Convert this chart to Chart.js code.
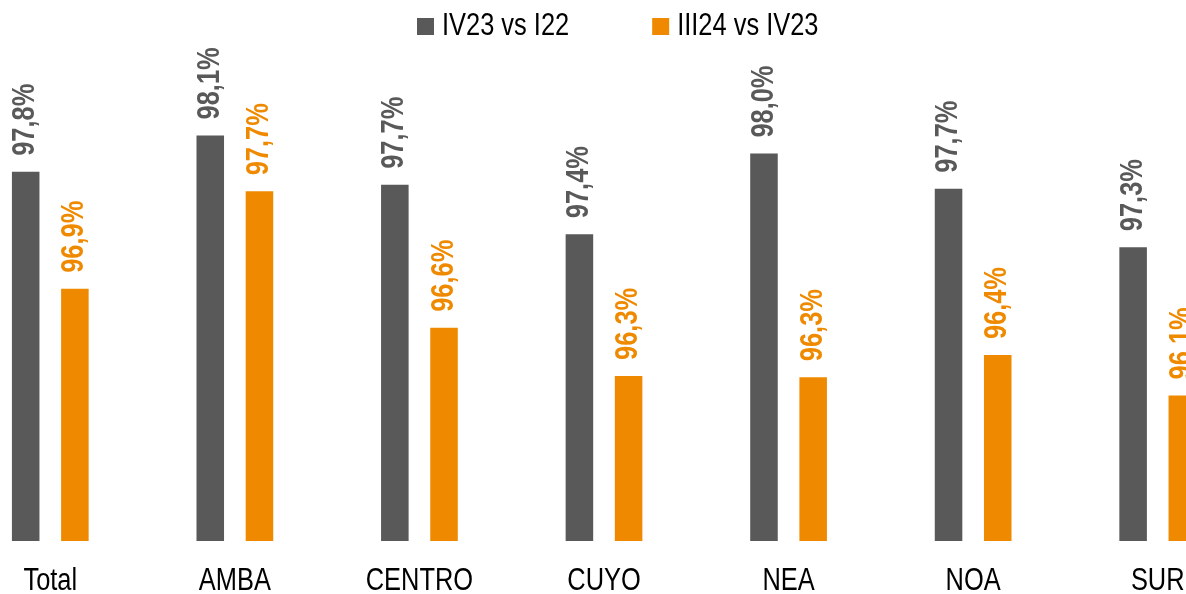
<!DOCTYPE html>
<html>
<head>
<meta charset="utf-8">
<script src="https://cdn.jsdelivr.net/npm/chart.js@4.4.1/dist/chart.umd.min.js"></script>
<style>
  html, body { margin: 0; padding: 0; background: #fff; overflow: hidden; }
  #wrap { position: relative; width: 1186px; height: 594px; overflow: hidden; }
  #out { position: absolute; left: -42px; top: 0; }
</style>
</head>
<body>
<div id="wrap"><canvas id="out" width="1292" height="594"></canvas></div>
<script>
const regions = ["Total", "AMBA", "CENTRO", "CUYO", "NEA", "NOA", "SUR"];
const seriesNames = ["IV23 vs I22", "III24 vs IV23"];
const iv23Data = [97.84, 98.12, 97.74, 97.36, 97.98, 97.71, 97.26];
const iii24Data = [96.94, 97.69, 96.64, 96.27, 96.26, 96.43, 96.12];
const yMin = 95;
const yMax = 98.8;

const GRAY = "#595959";
const ORANGE = "#EF8A00";
const FONT = "'Liberation Sans Narrow', 'Arial Narrow', 'Liberation Sans', sans-serif";
const NARROW = 0.82; // no narrow face installed, so squeeze the regular one

// rotated value labels above each bar
const barLabels = {
  id: "barLabels",
  afterDatasetsDraw(chart) {
    const ctx = chart.ctx;
    chart.data.datasets.forEach((ds, i) => {
      chart.getDatasetMeta(i).data.forEach((bar, j) => {
        const txt = ds.data[j].toFixed(1).replace(".", ",") + "%";
        ctx.save();
        ctx.translate(bar.x, bar.y - 16);
        ctx.rotate(-Math.PI / 2);
        ctx.scale(NARROW, 1);
        ctx.font = "bold 31px " + FONT;
        ctx.fillStyle = ds.backgroundColor;
        ctx.textAlign = "left";
        ctx.textBaseline = "middle";
        ctx.fillText(txt, 0, 0);
        ctx.restore();
      });
    });
  }
};

// category names under the bars, placed on the x scale ticks
const catLabels = {
  id: "catLabels",
  afterDraw(chart) {
    const ctx = chart.ctx;
    const xs = chart.scales.x;
    ctx.save();
    ctx.font = "31px " + FONT;
    ctx.fillStyle = "#000";
    ctx.textAlign = "center";
    ctx.textBaseline = "alphabetic";
    chart.data.labels.forEach((lab, i) => {
      ctx.save();
      ctx.translate(xs.getPixelForTick(i), 590);
      ctx.scale(NARROW, 1);
      ctx.fillText(lab, 0, 0);
      ctx.restore();
    });
    ctx.restore();
  }
};

// legend with small square boxes, drawn on top
const topLegend = {
  id: "topLegend",
  afterDraw(chart) {
    const ctx = chart.ctx;
    ctx.save();
    ctx.font = "31px " + FONT;
    ctx.textBaseline = "middle";
    let x = 459;
    const y = 26;
    chart.data.datasets.forEach(ds => {
      ctx.fillStyle = ds.backgroundColor;
      ctx.fillRect(x, y - 8, 17, 17);
      ctx.fillStyle = "#000";
      ctx.save();
      ctx.translate(x + 25, y);
      ctx.scale(NARROW, 1);
      ctx.fillText(ds.label, 0, 0);
      ctx.restore();
      x += 25 + ctx.measureText(ds.label).width * NARROW + 83;
    });
    ctx.restore();
  }
};

new Chart(document.getElementById("out"), {
  type: "bar",
  data: {
    labels: regions,
    datasets: [
      { label: seriesNames[0], data: iv23Data, backgroundColor: GRAY },
      { label: seriesNames[1], data: iii24Data, backgroundColor: ORANGE }
    ]
  },
  options: {
    responsive: false,
    animation: false,
    layout: { padding: { top: 47, left: 0, right: 0, bottom: 0 } },
    datasets: { bar: { categoryPercentage: 0.533, barPercentage: 0.56 } },
    scales: {
      x: {
        grid: { display: false, drawTicks: false },
        border: { display: false },
        ticks: { display: false },
        afterFit(scale) { scale.height = 53; }
      },
      y: { display: false, min: yMin, max: yMax }
    },
    plugins: {
      legend: { display: false },
      tooltip: { enabled: false }
    }
  },
  plugins: [barLabels, catLabels, topLegend]
});
</script>
</body>
</html>
